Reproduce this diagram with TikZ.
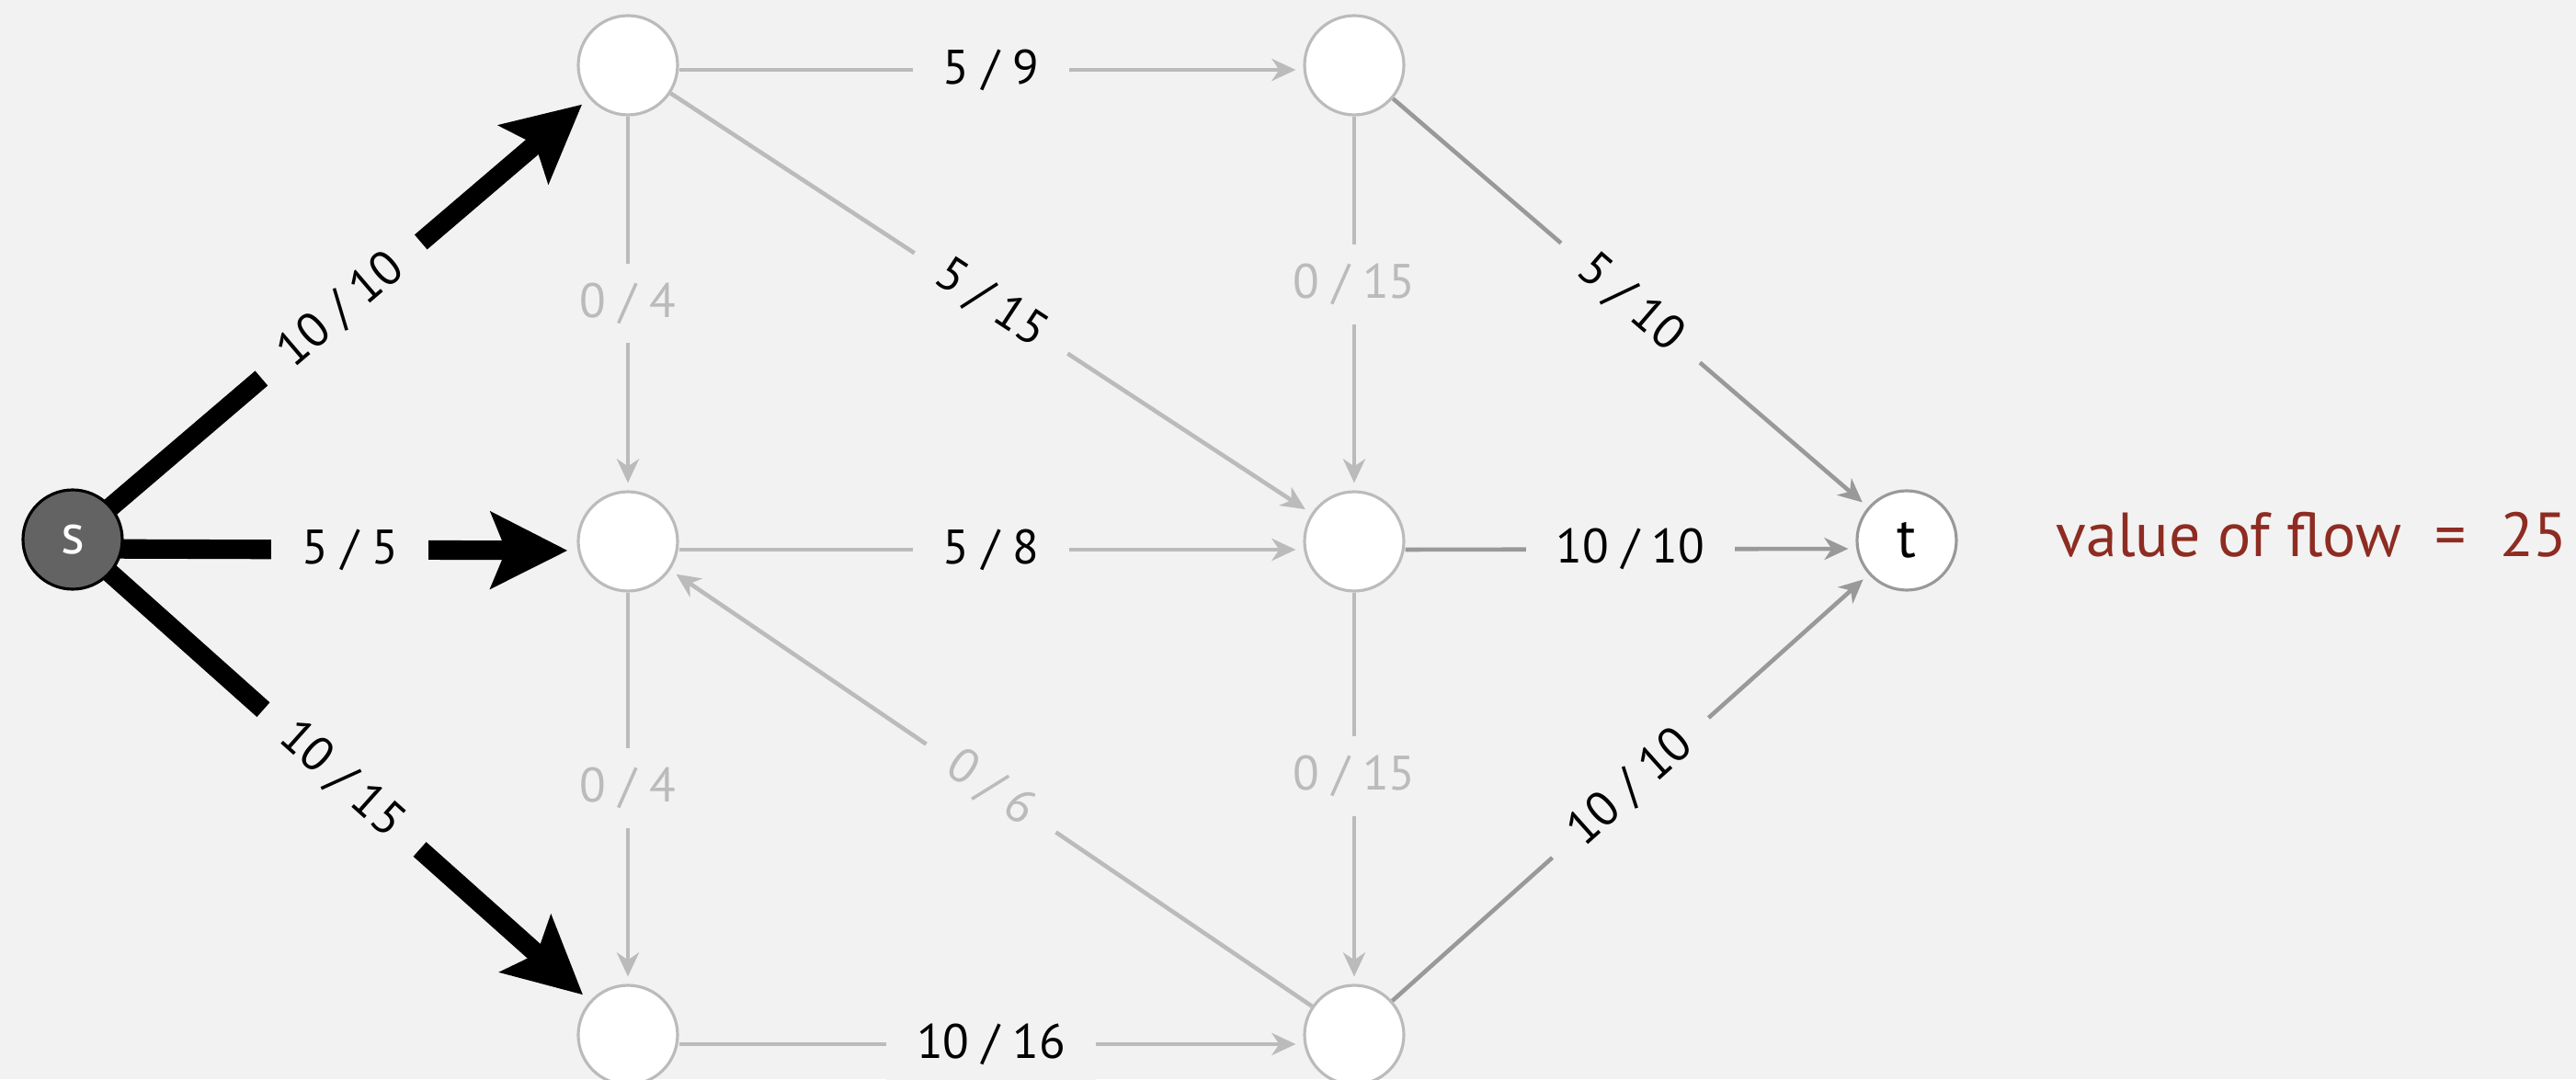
\documentclass[tikz,border=0pt]{standalone}
\usepackage{fontspec}
\setmainfont{PT Sans}
\usetikzlibrary{arrows.meta}
\definecolor{bgcol}{HTML}{F2F2F2}
\definecolor{resid}{HTML}{BBBBBB}
\definecolor{sinkcol}{HTML}{999999}
\definecolor{srccol}{HTML}{636363}
\definecolor{valcol}{HTML}{8E2C22}
\pgfdeclarelayer{back}
\pgfdeclarelayer{links}
\pgfsetlayers{back,links,main}
\tikzset{
  vtx/.style={circle, draw=resid, fill=white, line width=0.9pt, minimum size=1.08cm,
    inner sep=0pt, font=\fontsize{17.5}{20}\selectfont},
  lbl/.style={fill=bgcol, inner xsep=0.33cm, inner ysep=0.21cm, font=\fontsize{15}{17}\selectfont},
  zero/.style={lbl, text=resid},
  thinedge/.style={draw=resid, line width=1.3pt,
    -{Stealth[length=2.6mm,width=2.4mm,inset=0.8mm]}, shorten >=0.8mm},
  sinkedge/.style={thinedge, draw=sinkcol},
  fulledge/.style={draw=black, line width=6pt,
    -{Stealth[length=8.3mm,width=8.2mm,inset=1.6mm]}, shorten >=1mm},
}

\begin{document}
\begin{tikzpicture}
  \begin{pgfonlayer}{back}
    \fill[bgcol] (0,0) rectangle (28.02,11.74);
  \end{pgfonlayer}
  \useasboundingbox (0,0) rectangle (28.02,11.74);

  \node[vtx, fill=srccol, draw=black, text=white] (s) at (0.79,5.87) {s};
  \node[vtx] (a) at (6.83,11.03) {};
  \node[vtx] (b) at (14.73,11.03) {};
  \node[vtx] (c) at (6.83,5.85) {};
  \node[vtx] (d) at (14.73,5.85) {};
  \node[vtx] (e) at (6.83,0.48) {};
  \node[vtx] (f) at (14.73,0.48) {};
  \node[vtx, draw=sinkcol] (t) at (20.74,5.86) {t};
  \node[text=valcol, font=\fontsize{19.3}{23}\selectfont, anchor=base west, inner sep=0pt]
    (val) at (22.36,5.69) {value of flow~~=~~25};

  \begin{pgfonlayer}{links}
    % augmenting flow out of s
    \draw[fulledge] (s.center) -- node[lbl, sloped, pos=0.52] {10 / 10} (a);
    \draw[fulledge] ([yshift=-1mm]s.center) -- node[lbl, pos=0.55] {5 / 5} ([yshift=-1mm]c.west);
    \draw[fulledge] (s.center) -- node[lbl, sloped, pos=0.52] {10 / 15} (e);
    % the rest of the network
    \draw[thinedge] ([yshift=-0.5mm]a.east) -- node[lbl] {5 / 9} ([yshift=-0.5mm]b.west);
    \draw[thinedge] (a) -- node[zero] {0 / 4} (c);
    \draw[thinedge] (a) -- node[lbl, sloped] {5 / 15} (d);
    \draw[thinedge] (b) -- node[zero, pos=0.45] {0 / 15} (d);
    \draw[sinkedge] (b) -- node[lbl, sloped] {5 / 10} (t);
    \draw[thinedge] ([yshift=-0.9mm]c.east) -- node[lbl] {5 / 8} ([yshift=-0.9mm]d.west);
    \draw[thinedge] (c) -- node[zero] {0 / 4} (e);
    \draw[thinedge] (f) -- node[zero, sloped] {0 / 6} (c);
    \draw[sinkedge] ([yshift=-0.9mm]d.east) -- node[lbl] {10 / 10} ([yshift=-0.9mm]t.west);
    \draw[thinedge] (d) -- node[zero, pos=0.47] {0 / 15} (f);
    \draw[thinedge] ([yshift=-1mm]e.east) -- node[lbl] {10 / 16} ([yshift=-1mm]f.west);
    \draw[sinkedge] (f) -- node[lbl, sloped] {10 / 10} (t);
  \end{pgfonlayer}
\end{tikzpicture}
\end{document}
